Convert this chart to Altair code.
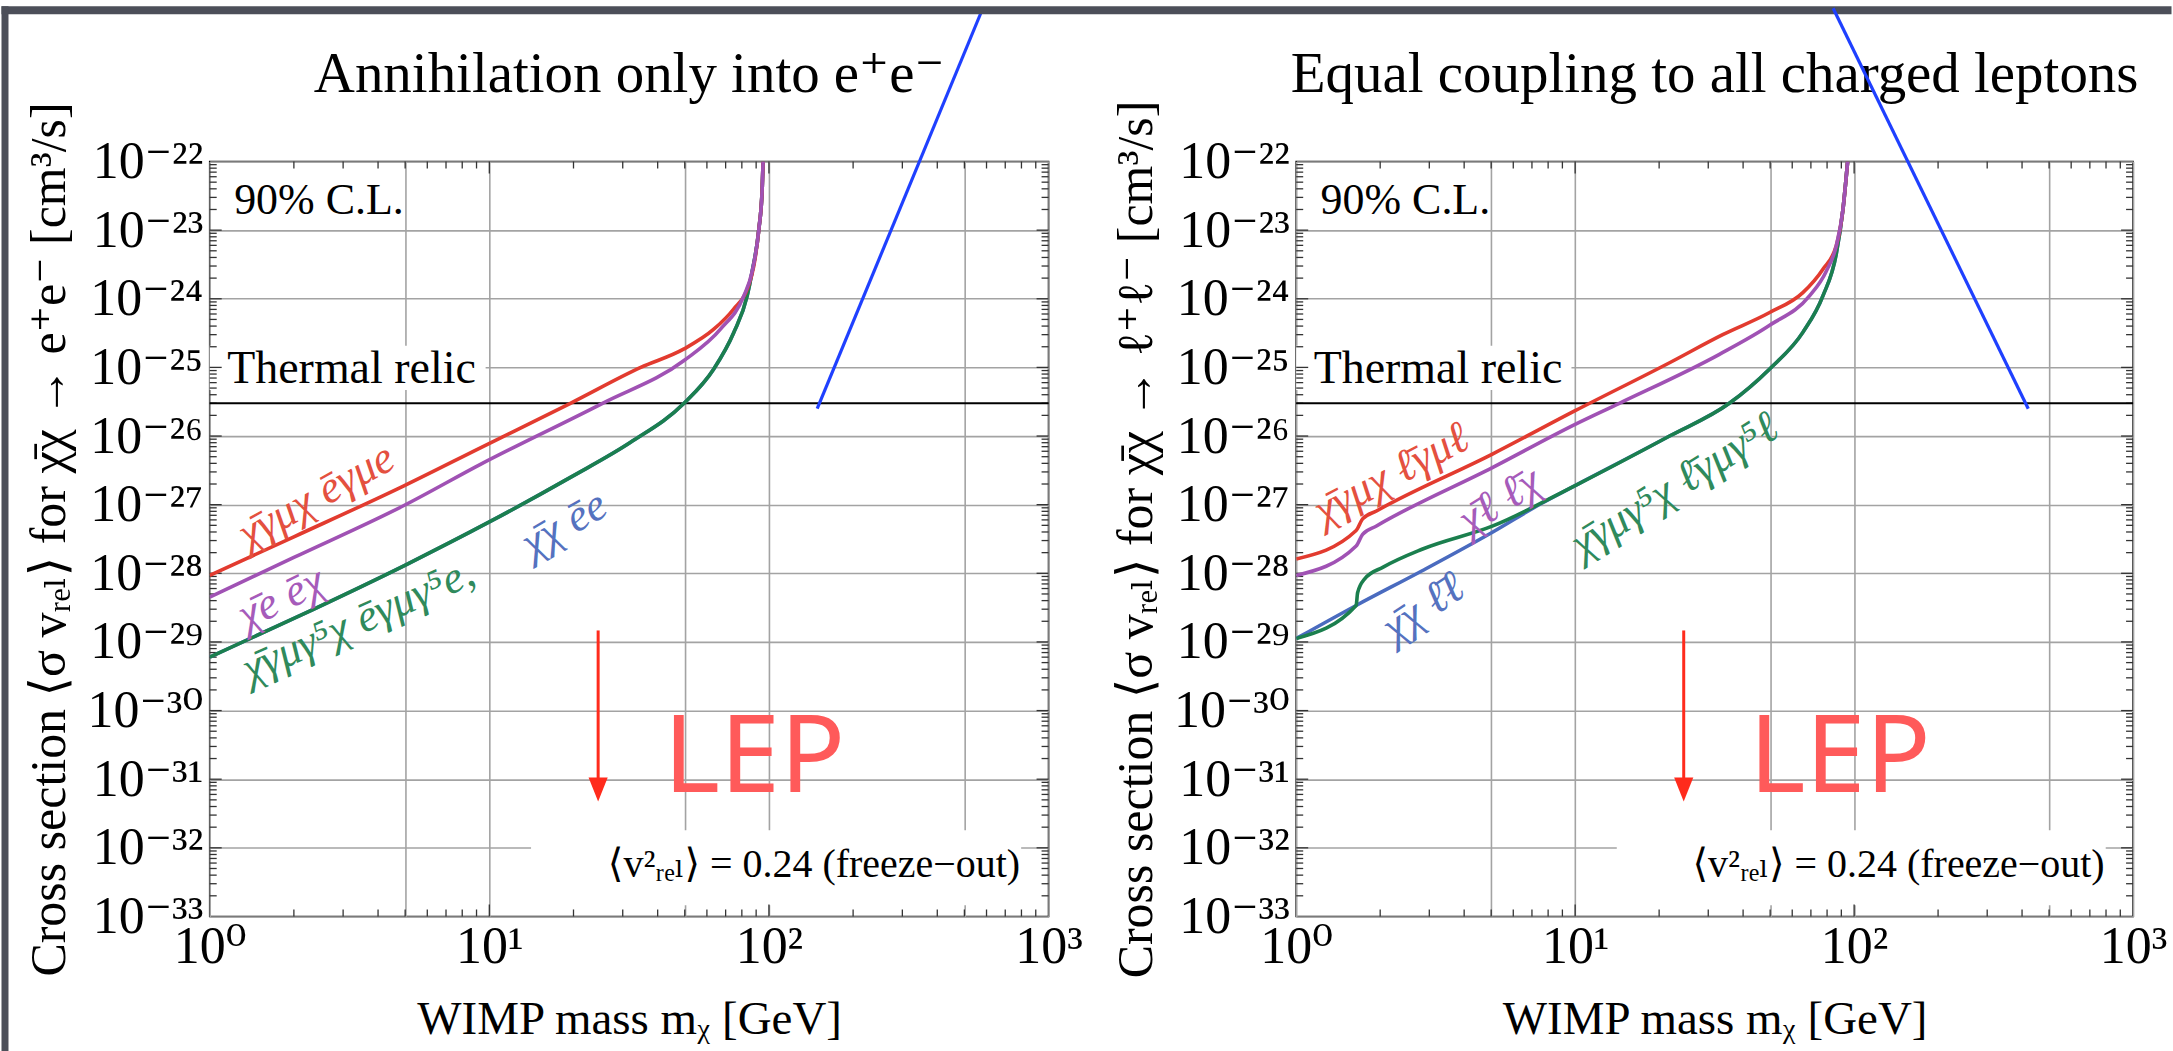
import math
import altair as alt
import pandas as pd

# ---------------- values ----------------
# Left panel: annihilation only into e+e-   (mass in GeV, <sigma v> in cm^3/s)
ee_vec_m = [1.0, 2.0, 4.97, 9.33, 19.5, 34.8, 49.7, 63.5, 74.8, 83.6, 88.3, 92.0, 94.6, 95.3]
ee_vec_s = [9.3e-29, 3.4e-28, 1.9e-27, 6.8e-27, 3.0e-26, 1.0e-25, 1.86e-25, 3.6e-25, 7.1e-25,
            1.38e-24, 3.0e-24, 1.02e-23, 4.0e-23, 1.0e-22]
ee_scal_m = [1.0, 2.0, 4.97, 9.33, 25.4, 49.7, 67.1, 81.3, 87.1, 92.0, 94.6, 95.3]
ee_scal_s = [4.5e-29, 1.7e-28, 9.8e-28, 3.9e-27, 3.0e-26, 1.26e-25, 3.6e-25, 1.1e-24, 2.5e-24,
             1.02e-23, 4.0e-23, 1.0e-22]
ee_axial_m = [1.0, 2.0, 5.01, 10.0, 19.5, 32.0, 49.7, 63.5, 74.8, 83.6, 87.1, 92.0, 94.6, 95.3]
ee_axial_s = [6.0e-30, 2.2e-29, 1.32e-28, 5.6e-28, 2.5e-27, 8.1e-27, 3.0e-26, 9.5e-26, 3.2e-25,
              1.1e-24, 2.5e-24, 1.02e-23, 4.0e-23, 1.0e-22]
ee_sscal_m = [1.0, 2.0, 5.01, 10.0, 19.5, 32.0, 49.7, 63.5, 74.8, 83.6, 87.1, 92.0, 94.6, 95.3]
ee_sscal_s = [6.0e-30, 2.2e-29, 1.32e-28, 5.6e-28, 2.5e-27, 8.1e-27, 3.0e-26, 9.5e-26, 3.2e-25,
              1.1e-24, 2.5e-24, 1.02e-23, 4.0e-23, 1.0e-22]

# Right panel: equal coupling to all charged leptons
ll_vec_m = [1.0, 1.64, 1.73, 1.94, 5.07, 10.0, 21.8, 33.8, 49.8, 65.5, 77.3, 86.3, 91.2, 94.8]
ll_vec_s = [1.62e-28, 4.2e-28, 6.2e-28, 8.1e-28, 5.5e-27, 2.34e-26, 1.17e-25, 3.0e-25, 6.3e-25,
            1.23e-24, 2.7e-24, 5.9e-24, 2.0e-23, 1.0e-22]
ll_scal_m = [1.0, 1.64, 1.73, 1.94, 5.07, 10.0, 14.4, 32.9, 49.8, 69.2, 79.4, 86.3, 91.2, 94.8]
ll_scal_s = [9.3e-29, 2.5e-28, 3.7e-28, 4.9e-28, 3.5e-27, 1.48e-26, 3.0e-26, 1.55e-25, 4.1e-25,
             1.1e-24, 2.5e-24, 5.9e-24, 2.0e-23, 1.0e-22]
ll_axial_m = [1.0, 1.64, 1.66, 1.76, 2.05, 2.84, 5.07, 10.0, 21.8, 35.7, 49.8, 65.5, 77.3, 86.3, 91.2, 94.8]
ll_axial_s = [1.12e-29, 3.4e-29, 5.2e-29, 8.3e-29, 1.23e-28, 2.26e-28, 4.9e-28, 1.9e-27, 1.0e-26,
              3.0e-26, 9.5e-26, 3.24e-25, 1.1e-24, 4.5e-24, 2.0e-23, 1.0e-22]
ll_sscal_m = [1.0, 1.64, 2.84, 5.07, 7.59, 10.0, 21.8, 35.7, 49.8, 65.5, 77.3, 86.3, 91.2, 94.8]
ll_sscal_s = [1.12e-29, 3.4e-29, 1.1e-28, 4.0e-28, 1.05e-27, 1.9e-27, 1.0e-26, 3.0e-26, 9.5e-26,
              3.24e-25, 1.1e-24, 4.5e-24, 2.0e-23, 1.0e-22]

thermal_relic = 3.0e-26

# curve labels: text, mass, sigma, angle, colour key
chi = "\u03c7\u0304"
ee_labels = [
    (chi + "γμχ ēγμe", 2.40, 1.35e-27, 331, "red"),
    (chi + "e ēχ", 1.80, 4.4e-29, 334, "purple"),
    (chi + "γμγ⁵χ ēγμγ⁵e,", 3.39, 2.04e-29, 336, "green"),
    (chi + "χ ēe", 18.5, 5.2e-28, 330, "blue"),
]
ll_labels = [
    (chi + "γμχ ℓ̄γμℓ", 2.19, 2.8e-27, 332, "red"),
    (chi + "ℓ ℓ̄χ", 5.36, 1.15e-27, 328, "purple"),
    (chi + "χ ℓ̄ℓ", 2.85, 3.2e-29, 326, "blue"),
    (chi + "γμγ⁵χ ℓ̄γμγ⁵ℓ", 22.7, 1.9e-27, 328, "green"),
]

# annotations (data coordinates)
cl_pos = (1.223, 1.72e-23)
thermal_text_pos = (1.155, 5.97e-26)
thermal_box = (1.0, 9.7, 4.7e-26, 2.06e-25)
freeze_pos = (791.0, 3.72e-33)
freeze_box = (14.1, 798.0, 1.46e-33, 1.8e-32)
lep_pos = (42.0, 6.45e-32)
arrow_m = 24.5
arrow_top, arrow_bottom, arrow_head = 1.47e-29, 9.6e-32, 7.1e-32
blue_left_m, blue_left_s = [582.0, 148.8], [1.71e-20, 2.5e-26]
blue_right_m, blue_right_s = [84.1, 421.0], [1.71e-20, 2.5e-26]

# ticks
x_tick_values = [1, 5, 10, 50, 100, 500, 1000]
x_tick_labels = ["10⁰", "", "10¹", "", "10²", "", "10³"]
y_tick_exponents = list(range(-33, -21))
SUP = str.maketrans("-0123456789", "⁻⁰¹²³⁴⁵⁶⁷⁸⁹")
y_tick_labels = ["10" + str(e).translate(SUP) for e in y_tick_exponents]
minor_mantissas = [2, 3, 4, 5, 6, 7, 8, 9]
x_decades = [1, 10, 100]
y_decades = list(range(-33, -22))

# ---------------- style ----------------
SERIF = "Liberation Serif, Times New Roman, DejaVu Serif"
RED, PURPLE, GREEN, BLUE = "#e23b2f", "#a052b4", "#1b7f4e", "#4a6bbf"
COLORS = {"red": "#e4503f", "purple": "#a65bba", "green": "#2f8a5c", "blue": "#5572bf"}
GRID = "#a3a3a3"
DARK = "#4c4f59"
W_L, W_R, H = 840, 838, 756
SPACING = 248

XS = alt.Scale(type="log", domain=[1, 1000], nice=False)
YS = alt.Scale(type="log", domain=[1e-33, 1e-22], nice=False)

x_expr = " : ".join(
    f"round(log(datum.value)/LN10*100) == {round(math.log10(v) * 100)} ? '{lab}'"
    for v, lab in zip(x_tick_values, x_tick_labels)) + " : ''"
y_expr = " : ".join(
    f"round(log(datum.value)/LN10) == {e} ? '{lab}'"
    for e, lab in zip(y_tick_exponents, y_tick_labels)) + " : ''"


def panel(curves, labels, title_text, ytitle, width, blue_m, blue_s, strips):
    xax = alt.Axis(values=x_tick_values, labelExpr=x_expr, grid=True, ticks=False, tickSize=0,
                   domain=False, labelFont=SERIF, labelFontSize=52, labelColor="black",
                   labelPadding=5, labelFlush=False, labelOverlap=False,
                   gridColor=GRID, gridWidth=1.6,
                   title="WIMP mass mᵪ [GeV]", titleFont=SERIF, titleFontSize=47,
                   titleFontWeight="normal", titleColor="black", titleY=117,
                   titleBaseline="alphabetic")
    yax = alt.Axis(values=[10.0 ** e for e in y_tick_exponents], labelExpr=y_expr, grid=True,
                   ticks=False, tickSize=0, domain=False, labelFont=SERIF, labelFontSize=52,
                   labelColor="black", labelPadding=7, labelFlush=False, labelOverlap=False,
                   gridColor=GRID, gridWidth=1.6,
                   title=ytitle, titleFont=SERIF, titleFontSize=50, titleFontWeight="normal",
                   titleColor="black", titleX=-160, titleY=H / 2, titleAngle=270,
                   titleBaseline="middle", titleAlign="center")
    XE = alt.X("m:Q", scale=XS, axis=xax)
    YE = alt.Y("s:Q", scale=YS, axis=yax)
    one = pd.DataFrame({"a": [0]})
    layers = []

    # white boxes behind annotations
    boxes = pd.DataFrame({"m": [thermal_box[0], freeze_box[0]], "m2": [thermal_box[1], freeze_box[1]],
                          "s": [thermal_box[2], freeze_box[2]], "s2": [thermal_box[3], freeze_box[3]]})
    layers.append(alt.Chart(boxes).mark_rect(color="white", clip=False).encode(
        x=XE, x2=alt.X2("m2"), y=YE, y2=alt.Y2("s2")))

    # frame ticks (inward)
    x_minor = pd.DataFrame({"m": [k * d for d in x_decades for k in minor_mantissas]})
    x_major = pd.DataFrame({"m": [10, 100]})
    y_minor = pd.DataFrame({"s": [k * 10.0 ** e for e in y_decades for k in minor_mantissas]})
    y_major = pd.DataFrame({"s": [10.0 ** e for e in y_tick_exponents[1:-1]]})
    for df, ln in [(x_minor, 7), (x_major, 12)]:
        layers.append(alt.Chart(df).mark_rule(color="#333", strokeWidth=1.3).encode(
            x=XE, y=alt.value(H), y2=alt.value(H - ln)))
        layers.append(alt.Chart(df).mark_rule(color="#333", strokeWidth=1.3).encode(
            x=XE, y=alt.value(0), y2=alt.value(ln)))
    for df, ln in [(y_minor, 7), (y_major, 12)]:
        layers.append(alt.Chart(df).mark_rule(color="#333", strokeWidth=1.3).encode(
            y=YE, x=alt.value(0), x2=alt.value(ln)))
        layers.append(alt.Chart(df).mark_rule(color="#333", strokeWidth=1.3).encode(
            y=YE, x=alt.value(width), x2=alt.value(width - ln)))

    # thermal relic line
    layers.append(alt.Chart(pd.DataFrame({"s": [thermal_relic]})).mark_rule(
        color="black", strokeWidth=2).encode(y=YE))

    # curves (draw order: blue, green, red, purple)
    for m, s, col in curves:
        df = pd.DataFrame({"m": m, "s": s})
        layers.append(alt.Chart(df).mark_line(color=col, strokeWidth=3.6, interpolate="monotone",
                                              clip=True).encode(x=XE, y=YE))

    # curve labels
    for txt, m, s, ang, key in labels:
        layers.append(alt.Chart(pd.DataFrame({"m": [m], "s": [s]})).mark_text(
            text=txt, font=SERIF, fontSize=45, fontStyle="italic", color=COLORS[key],
            angle=ang, align="center", baseline="middle", clip=False).encode(x=XE, y=YE))

    # annotations
    layers.append(alt.Chart(pd.DataFrame({"m": [cl_pos[0]], "s": [cl_pos[1]]})).mark_text(
        text="90% C.L.", font=SERIF, fontSize=44, color="black", align="left",
        baseline="alphabetic", clip=False).encode(x=XE, y=YE))
    layers.append(alt.Chart(pd.DataFrame({"m": [thermal_text_pos[0]], "s": [thermal_text_pos[1]]})).mark_text(
        text="Thermal relic", font=SERIF, fontSize=46, color="black", align="left",
        baseline="alphabetic", clip=False).encode(x=XE, y=YE))
    layers.append(alt.Chart(pd.DataFrame({"m": [freeze_pos[0]], "s": [freeze_pos[1]]})).mark_text(
        text="⟨v²ᵣₑₗ⟩ = 0.24 (freeze−out)", font=SERIF, fontSize=40, color="black",
        align="right", baseline="alphabetic", clip=False).encode(x=XE, y=YE))

    # LEP arrow and text
    layers.append(alt.Chart(pd.DataFrame({"m": [arrow_m], "s": [arrow_top], "s2": [arrow_bottom]})).mark_rule(
        color="#ff2b1c", strokeWidth=3).encode(x=XE, y=YE, y2=alt.Y2("s2")))
    layers.append(alt.Chart(pd.DataFrame({"m": [arrow_m], "s": [arrow_head]})).mark_point(
        shape="M -0.8 -1 L 0.8 -1 L 0 1 Z", filled=True, size=576, color="#ff2b1c",
        opacity=1, strokeWidth=0).encode(x=XE, y=YE))
    layers.append(alt.Chart(pd.DataFrame({"m": [lep_pos[0]], "s": [lep_pos[1]]})).mark_text(
        text="LEP", font="Comic Sans MS, Noto Sans, DejaVu Sans", fontSize=108, fontWeight="normal",
        color="#ff5a5a", align="left", baseline="alphabetic", clip=False).encode(x=XE, y=YE))

    # panel title (drawn as text just above the frame)
    layers.append(alt.Chart(one).mark_text(
        text=title_text, font=SERIF, fontSize=57, color="black", align="center",
        baseline="alphabetic", clip=False).encode(x=alt.value(width / 2), y=alt.value(-70)))

    # blue overlay line
    layers.append(alt.Chart(pd.DataFrame({"m": blue_m, "s": blue_s})).mark_line(
        color="#1f40ff", strokeWidth=3.2, clip=False).encode(x=XE, y=YE))

    # slide frame strips
    if strips:
        layers.append(alt.Chart(one).mark_rect(color=DARK, clip=False).encode(
            x=alt.value(-208.5), x2=alt.value(2173 - 208.5), y=alt.value(-155.5), y2=alt.value(-147.5)))
        layers.append(alt.Chart(one).mark_rect(color=DARK, clip=False).encode(
            x=alt.value(-208.5), x2=alt.value(-201.5), y=alt.value(-155.5), y2=alt.value(1051 - 155.5)))

    return alt.layer(*layers).properties(width=width, height=H)


left = panel([(ee_sscal_m, ee_sscal_s, BLUE), (ee_axial_m, ee_axial_s, GREEN),
              (ee_vec_m, ee_vec_s, RED), (ee_scal_m, ee_scal_s, PURPLE)],
             ee_labels, "Annihilation only into e⁺e⁻",
             "Cross section ⟨σ vᵣₑₗ⟩ for χ̄χ → e⁺e⁻ [cm³/s]", W_L,
             blue_left_m, blue_left_s, True)
right = panel([(ll_sscal_m, ll_sscal_s, BLUE), (ll_axial_m, ll_axial_s, GREEN),
               (ll_vec_m, ll_vec_s, RED), (ll_scal_m, ll_scal_s, PURPLE)],
              ll_labels, "Equal coupling to all charged leptons",
              "Cross section ⟨σ vᵣₑₗ⟩ for χ̄χ → ℓ⁺ℓ⁻ [cm³/s]", W_R,
              blue_right_m, blue_right_s, False)

chart = alt.hconcat(left, right, spacing=SPACING, bounds="flush").properties(
    padding=0, background="white"
).configure_view(stroke="black", strokeWidth=1.6)

chart.save("out.html", embed_options={"renderer": "svg", "actions": False})
